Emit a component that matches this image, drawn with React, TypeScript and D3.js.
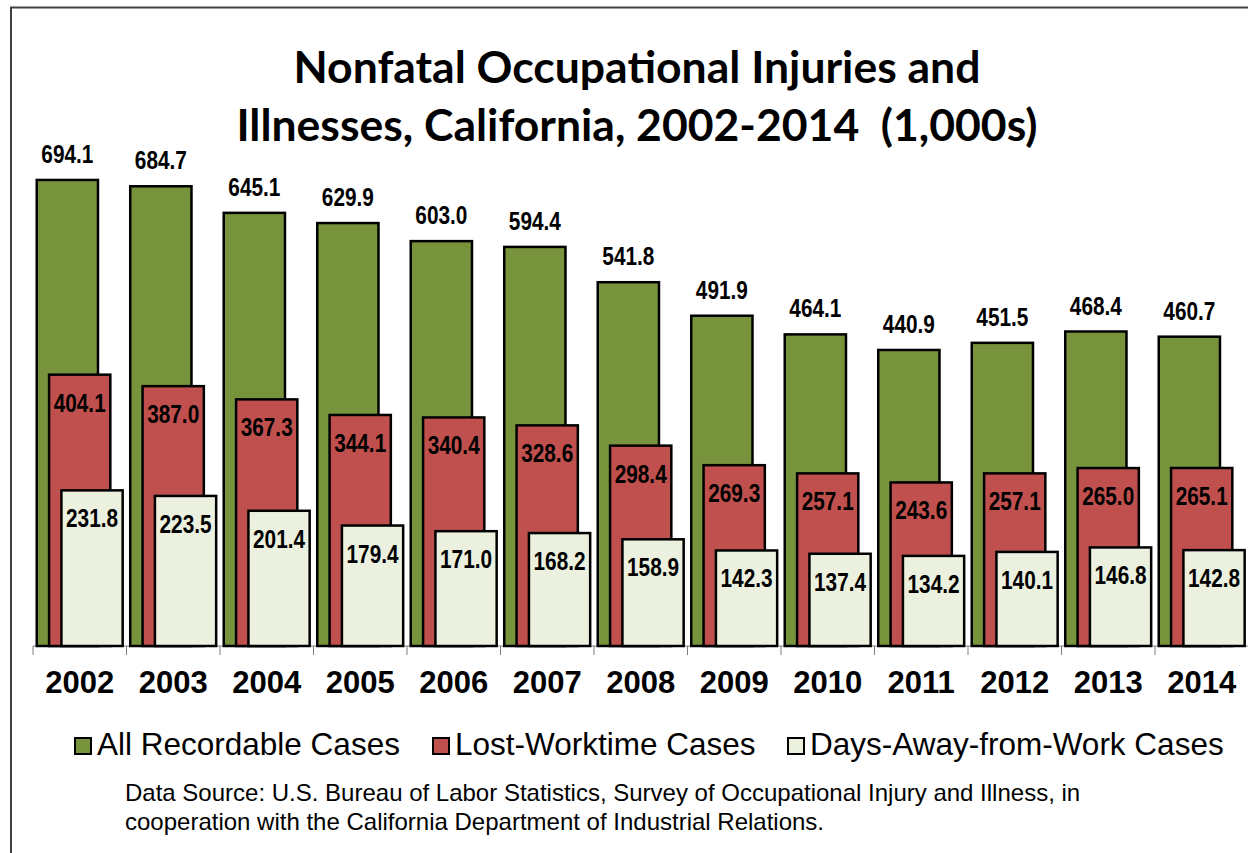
import React from "react";
import * as d3 from "d3";

const years = ["2002", "2003", "2004", "2005", "2006", "2007", "2008", "2009", "2010", "2011", "2012", "2013", "2014"];
const allRecordable = [694.1, 684.7, 645.1, 629.9, 603.0, 594.4, 541.8, 491.9, 464.1, 440.9, 451.5, 468.4, 460.7];
const lostWorktime = [404.1, 387.0, 367.3, 344.1, 340.4, 328.6, 298.4, 269.3, 257.1, 243.6, 257.1, 265.0, 265.1];
const daysAway = [231.8, 223.5, 201.4, 179.4, 171.0, 168.2, 158.9, 142.3, 137.4, 134.2, 140.1, 146.8, 142.8];
const seriesNames = ["All Recordable Cases", "Lost-Worktime Cases", "Days-Away-from-Work Cases"];

const colors = ["#77933C", "#C0504D", "#EBF1DE"];
const W = 1248;
const H = 853;

export default function App() {
  const series = [allRecordable, lostWorktime, daysAway];

  const x = d3.scaleBand().domain(years).range([33, 1248.5]).padding(0);
  const y = d3.scaleLinear().domain([0, 700]).range([646, 176]);
  const bw = x.bandwidth();
  const barW = bw * 0.655;
  const step = bw * 0.132;
  const offset = bw * 0.04;

  const arial = "'Liberation Sans', Arial, sans-serif";

  // legend positions (square left edge)
  const legendX = [74, 432, 787];

  return (
    <svg width={W} height={H} style={{ position: "absolute", left: 0, top: 0, background: "#fff" }}>
      <rect x={11} y={7.5} width={W + 20} height={H + 20} fill="#fff" stroke="#404040" strokeWidth={2} />

      <g fontFamily="Lato, 'Open Sans', sans-serif" fontWeight="bold" fontSize={44.5} textAnchor="middle" fill="#000">
        <text x={637} y={83}>Nonfatal Occupational Injuries and</text>
        <text x={637} y={141} style={{ whiteSpace: "pre" }}>Illnesses, California, 2002-2014  (1,000s)</text>
      </g>

      {/* axis line and ticks */}
      <line x1={33} x2={1248} y1={y(0)} y2={y(0)} stroke="#7f7f7f" strokeWidth={1} />
      {years.map((yr) => (
        <line key={yr} x1={x(yr)!} x2={x(yr)!} y1={y(0)} y2={y(0) + 9} stroke="#7f7f7f" strokeWidth={1} />
      ))}

      {years.map((yr, i) => (
        <g key={yr}>
          {series.map((vals, k) => {
            const bx = x(yr)! + offset + k * step;
            return (
              <rect
                key={k}
                x={bx}
                y={y(vals[i])}
                width={barW}
                height={y(0) - y(vals[i])}
                fill={colors[k]}
                stroke="#000"
                strokeWidth={2.5}
              />
            );
          })}
          {series.map((vals, k) => {
            const cx = x(yr)! + offset + k * step + barW / 2;
            const ty = k === 0 ? y(vals[i]) - 17 : y(vals[i]) + 37;
            return (
              <text
                key={"l" + k}
                x={cx - 26}
                y={ty}
                textLength={52}
                lengthAdjust="spacingAndGlyphs"
                fontFamily={arial}
                fontWeight="bold"
                fontSize={26.5}
                fill="#000"
              >
                {vals[i].toFixed(1)}
              </text>
            );
          })}
          <text
            x={x(yr)! + bw / 2}
            y={693}
            textAnchor="middle"
            fontFamily={arial}
            fontWeight="bold"
            fontSize={31}
            fill="#000"
          >
            {yr}
          </text>
        </g>
      ))}

      {/* legend */}
      {seriesNames.map((name, k) => (
        <g key={name}>
          <rect x={legendX[k] + 1} y={738} width={16} height={16} fill={colors[k]} stroke="#000" strokeWidth={2} />
          <text x={legendX[k] + 23} y={755} fontFamily={arial} fontSize={31.5} fill="#000">
            {name}
          </text>
        </g>
      ))}

      <g fontFamily={arial} fontSize={24} fill="#000">
        <text x={125} y={801}>
          Data Source: U.S. Bureau of Labor Statistics, Survey of Occupational Injury and Illness, in
        </text>
        <text x={125} y={830}>cooperation with the California Department of Industrial Relations.</text>
      </g>
    </svg>
  );
}
